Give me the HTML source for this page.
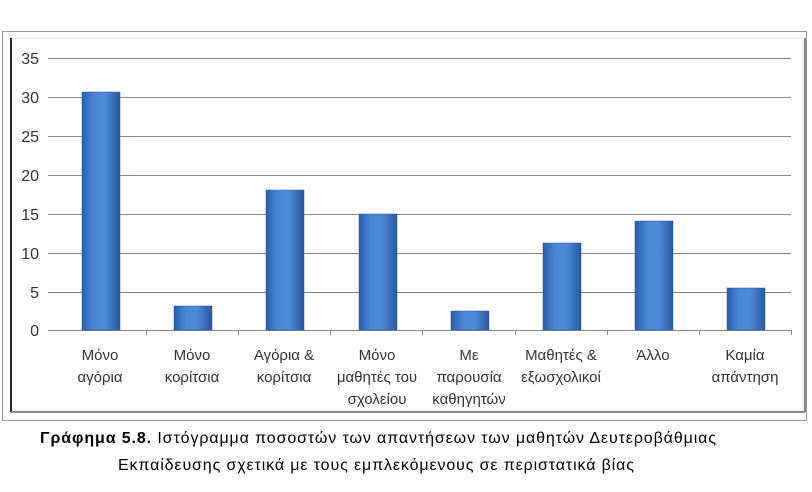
<!DOCTYPE html>
<html><head><meta charset="utf-8"><style>
body{margin:0;background:#fff;width:812px;height:492px;overflow:hidden;font-family:"Liberation Sans","DejaVu Sans",sans-serif;}
</style></head><body>
<svg width="812" height="492" xmlns="http://www.w3.org/2000/svg" style="position:absolute;left:0;top:0">
<defs>
<linearGradient id="g" x1="0" x2="1" y1="0" y2="0">
<stop offset="0" stop-color="#2a5ea8"/><stop offset="0.3" stop-color="#4a86d4"/><stop offset="0.6" stop-color="#4f8ad8"/><stop offset="1" stop-color="#2a5aa0"/>
</linearGradient>
</defs>
<rect x="2.5" y="31.5" width="804" height="389" fill="#fff" stroke="#999" stroke-width="1"/>
<rect x="11" y="38" width="792" height="373" fill="none" stroke="#e6e6e6"/>
<line x1="11" y1="38" x2="11" y2="412" stroke="#222" stroke-width="2"/>
<line x1="11" y1="412" x2="805" y2="412" stroke="#888" stroke-width="2"/>
<line x1="805" y1="38" x2="805" y2="412" stroke="#888" stroke-width="2"/>
<g stroke="#888" stroke-width="1">
<line x1="48" y1="58.5" x2="791" y2="58.5"/>
<line x1="48" y1="97.5" x2="791" y2="97.5"/>
<line x1="48" y1="136.5" x2="791" y2="136.5"/>
<line x1="48" y1="175.5" x2="791" y2="175.5"/>
<line x1="48" y1="214.5" x2="791" y2="214.5"/>
<line x1="48" y1="253.5" x2="791" y2="253.5"/>
<line x1="48" y1="292.5" x2="791" y2="292.5"/>
<line x1="48" y1="330.5" x2="791" y2="330.5"/>
<line x1="146.5" y1="330" x2="146.5" y2="335"/><line x1="238.5" y1="330" x2="238.5" y2="335"/>
<line x1="330.5" y1="330" x2="330.5" y2="335"/><line x1="422.5" y1="330" x2="422.5" y2="335"/>
<line x1="515.5" y1="330" x2="515.5" y2="335"/><line x1="607.5" y1="330" x2="607.5" y2="335"/>
<line x1="699.5" y1="330" x2="699.5" y2="335"/><line x1="791.5" y1="330" x2="791.5" y2="335"/>
</g>
<g font-size="16" fill="#333" text-anchor="end">
<text x="39" y="64">35</text><text x="39" y="103">30</text><text x="39" y="142">25</text>
<text x="39" y="181">20</text><text x="39" y="220">15</text><text x="39" y="259">10</text>
<text x="39" y="298">5</text><text x="39" y="336">0</text>
</g>
<g fill="url(#g)" stroke="#2a5090" stroke-width="0.5">
<rect x="82" y="92" width="38" height="238"/>
<rect x="174" y="306" width="38" height="24"/>
<rect x="266" y="190" width="38" height="140"/>
<rect x="359" y="214" width="38" height="116"/>
<rect x="451" y="311" width="38" height="19"/>
<rect x="543" y="243" width="38" height="87"/>
<rect x="635" y="221" width="38" height="109"/>
<rect x="727" y="288" width="38" height="42"/>
</g>
<g font-size="15" fill="#333" text-anchor="middle">
<text x="100" y="360">Μόνο</text><text x="100" y="382">αγόρια</text>
<text x="192" y="360">Μόνο</text><text x="192" y="382">κορίτσια</text>
<text x="284" y="360">Αγόρια &amp;</text><text x="284" y="382">κορίτσια</text>
<text x="377" y="360">Μόνο</text><text x="377" y="382">μαθητές του</text><text x="377" y="404">σχολείου</text>
<text x="469" y="360">Με</text><text x="469" y="382">παρουσία</text><text x="469" y="404">καθηγητών</text>
<text x="561" y="360">Μαθητές &amp;</text><text x="561" y="382">εξωσχολικοί</text>
<text x="653" y="360">Άλλο</text>
<text x="745" y="360">Καμία</text><text x="745" y="382">απάντηση</text>
</g>
<g font-size="16" fill="#000">
<text x="40" y="443" textLength="676" lengthAdjust="spacing"><tspan font-weight="bold">Γράφημα 5.8.</tspan> Ιστόγραμμα ποσοστών των απαντήσεων των μαθητών Δευτεροβάθμιας</text>
<text x="118" y="470" textLength="516" lengthAdjust="spacing">Εκπαίδευσης σχετικά με τους εμπλεκόμενους σε περιστατικά βίας</text>
</g>
</svg>
</body></html>
